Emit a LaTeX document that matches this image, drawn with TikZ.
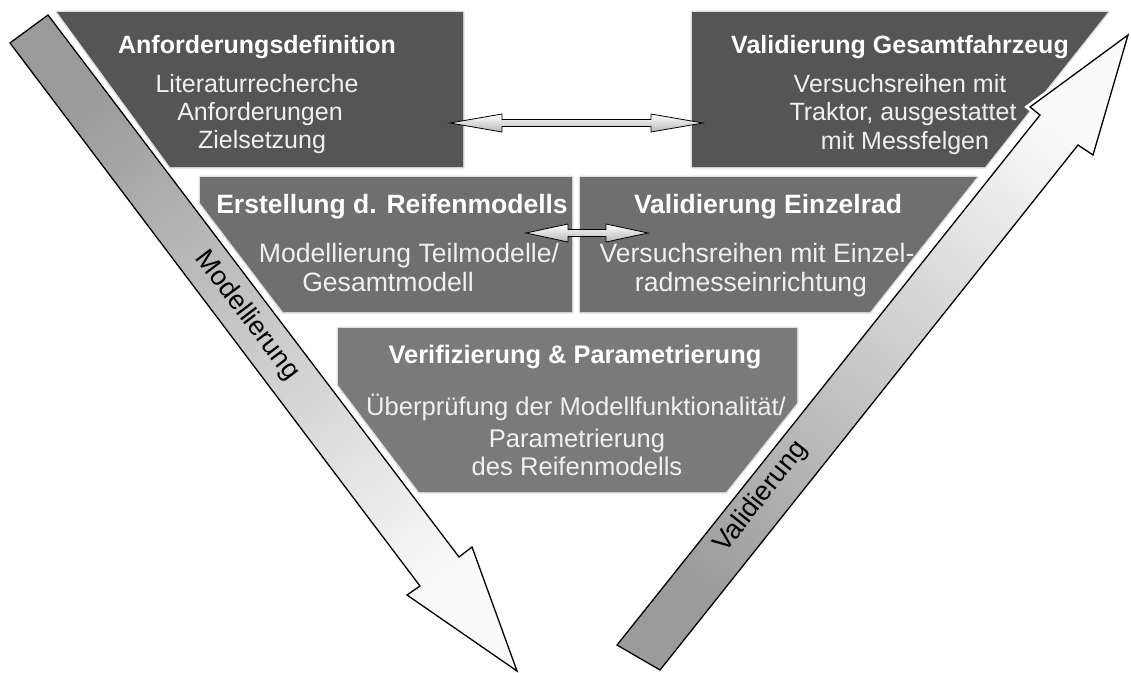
\documentclass[tikz,border=0pt]{standalone}
\usepackage{fontspec}
\setmainfont{Liberation Sans}
\usetikzlibrary{calc}
\definecolor{boxdark}{RGB}{85,85,85}
\definecolor{boxmid}{RGB}{111,111,111}
\definecolor{boxlow}{RGB}{122,122,122}
\definecolor{arrgray}{RGB}{155,155,155}
\definecolor{arrlight}{RGB}{250,250,250}
\newcommand{\dblarr}[3]{%
  \path[dblarrow] (#1) -- ($(#1)+(#3,-9)$) -- ($(#1)+(#3,-3.5)$) -- ($(#2)+(-#3,-3.5)$)
    -- ($(#2)+(-#3,-9)$) -- (#2) -- ($(#2)+(-#3,9)$) -- ($(#2)+(-#3,3.5)$)
    -- ($(#1)+(#3,3.5)$) -- ($(#1)+(#3,9)$) -- cycle;}
\begin{document}
\begin{tikzpicture}[x=1pt,y=-1pt,
  boxshape/.style={fill=#1, preaction={draw=black!13, line width=3pt, line join=round}},
  ttl/.style={text=white, font=\bfseries\fontsize{25}{30}\selectfont, anchor=base, inner sep=0pt},
  bdy/.style={text=white!94!black, font=\fontsize{25}{30}\selectfont, anchor=base, inner sep=0pt},
  ttlm/.style={ttl, font=\bfseries\fontsize{26.5}{30}\selectfont},
  bdym/.style={bdy, font=\fontsize{26.6}{30}\selectfont},
  ttll/.style={ttl, font=\bfseries\fontsize{25.4}{30}\selectfont},
  bdyl/.style={bdy, font=\fontsize{25.6}{30}\selectfont},
  bigarrow/.style={draw=black, line width=1.3pt, line join=miter,
    preaction={draw=white, line width=7pt, line join=miter}},
  dblarrow/.style={draw=black, line width=0.8pt, line join=miter, top color=white, bottom color=black!28},
  arrlabel/.style={text=black, font=\fontsize{27}{30}\selectfont, inner sep=0pt}
]
\useasboundingbox (0,0) rectangle (1131,672);
\fill[white] (0,0) rectangle (1131,672);

% boxes
\path[boxshape=boxdark] (57,12) -- (463,12) -- (463,167) -- (170,167) -- cycle;
\path[boxshape=boxdark] (692,12) -- (1108,12) -- (985,167) -- (692,167) -- cycle;
\path[boxshape=boxmid] (200,177) -- (572,177) -- (572,312) -- (283,312) -- (200,203) -- cycle;
\path[boxshape=boxmid] (580,177) -- (977,177) -- (870,312) -- (580,312) -- cycle;
\path[boxshape=boxlow] (338,328) -- (797,328) -- (797,403) -- (726,492) -- (419,492) -- (338,385) -- cycle;

% double arrows
\coordinate (d1l) at (450,123);
\coordinate (d1r) at (703,123);
\dblarr{d1l}{d1r}{52}
\coordinate (d2l) at (526,233);
\coordinate (d2r) at (648,233);
\dblarr{d2l}{d2r}{42}

% big arrows
\coordinate (la1) at (10,43);
\coordinate (la2) at (420,586);
\coordinate (la3) at (407,595);
\coordinate (latip) at (517,671);
\coordinate (la5) at (472,547);
\coordinate (la6) at (459,557);
\coordinate (la7) at (48,15);
\path[bigarrow, top color=arrgray, bottom color=arrlight, shading angle=37.2]
  (la1) -- (la2) -- (la3) -- (latip) -- (la5) -- (la6) -- (la7) -- cycle;

\coordinate (ra1) at (617,645);
\coordinate (ra2) at (1040,115);
\coordinate (ra3) at (1030,107);
\coordinate (ratip) at (1128,35);
\coordinate (ra5) at (1093,155);
\coordinate (ra6) at (1078,145);
\coordinate (ra7) at (660,670);
\path[bigarrow, top color=arrlight, bottom color=arrgray, shading angle=-38.2]
  (ra1) -- (ra2) -- (ra3) -- (ratip) -- (ra5) -- (ra6) -- (ra7) -- cycle;

% box texts
\node[ttl] (b1t) at (257,53) {Anforderungsdefinition};
\node[bdy] (b1a) at (257,92) {Literaturrecherche};
\node[bdy] (b1b) at (260,120) {Anforderungen};
\node[bdy] (b1c) at (262,148) {Zielsetzung};

\node[ttl] (b2t) at (900,53) {Validierung Gesamtfahrzeug};
\node[bdy] (b2a) at (900,92) {Versuchsreihen mit};
\node[bdy] (b2b) at (903,120) {Traktor, ausgestattet};
\node[bdy] (b2c) at (905,149) {mit Messfelgen};

\node[ttlm] (b3t) at (392,213) {Erstellung d. Reifenmodells};
\node[bdym] (b3a) at (409,262) {Modellierung Teilmodelle/};
\node[bdym] (b3b) at (388,291) {Gesamtmodell};

\node[ttlm] (b4t) at (768,213) {Validierung Einzelrad};
\node[bdym] (b4a) at (757,262) {Versuchsreihen mit Einzel-};
\node[bdym] (b4b) at (751,291) {radmesseinrichtung};

\node[ttll] (b5t) at (575,363) {Verifizierung \& Parametrierung};
\node[bdyl] (b5a) at (576,415) {Überprüfung der Modellfunktionalität/};
\node[bdyl] (b5b) at (577,447) {Parametrierung};
\node[bdyl] (b5c) at (577,475) {des Reifenmodells};

\node[arrlabel, rotate=-52.8] (lmod) at (247,316) {Modellierung};
\node[arrlabel, rotate=51.8] (lval) at (761,497) {Validierung};
\end{tikzpicture}
\end{document}
